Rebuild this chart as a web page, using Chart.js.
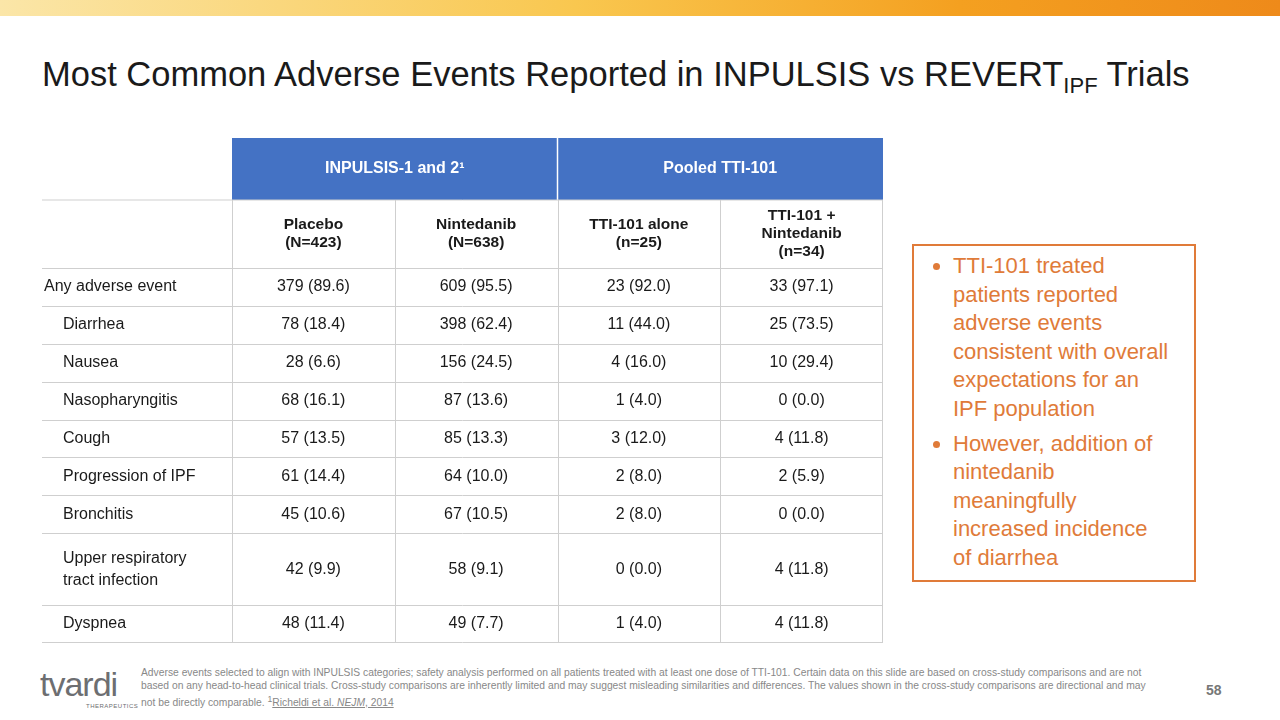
<!DOCTYPE html>
<html>
<head>
<meta charset="utf-8">
<script src="https://cdn.jsdelivr.net/npm/chart.js@4.4.1/dist/chart.umd.min.js"></script>
<style>
  body { margin:0; width:1280px; height:720px; position:relative; overflow:hidden; background:#fff; font-family:"Liberation Sans", Arial, sans-serif; }
  #banner { position:absolute; left:0; top:0; width:1280px; height:16px; background:linear-gradient(90deg,#fbe6a8 0%,#f9c74f 45%,#f4a020 75%,#ee8a1a 100%); }
  h1 { position:absolute; left:42px; top:55px; margin:0; font-weight:normal; font-size:34.5px; color:#1a1a1a; }
  h1 sub { font-size:22px; vertical-align:-7px; }
  #wrap { position:absolute; left:42px; top:138px; width:841px; height:505px; }
  #box { position:absolute; left:912px; top:244px; width:284px; height:338px; border:2px solid #E07B39; box-sizing:border-box; color:#E07B39; font-size:22px; line-height:28.6px; }
  #box ul { margin:6px 24px 0 0; padding-left:39px; }
  #box li { margin-bottom:6px; }
  #foot { position:absolute; left:141px; top:667px; width:1018px; font-size:10.3px; line-height:12.8px; color:#888; }
  #foot u { color:#888; }
  #page { position:absolute; left:1206px; top:682px; font-size:14px; font-weight:bold; color:#777; }
  #logo { position:absolute; left:40px; top:666px; font-size:34px; color:#6d6e71; letter-spacing:-1px; line-height:36px; }
  #logo small { display:block; font-size:6px; letter-spacing:0.5px; line-height:8px; margin:0 0 0 46px; }
</style>
</head>
<body>
<div id="banner"></div>
<h1>Most Common Adverse Events Reported in INPULSIS vs REVERT<sub>IPF</sub> Trials</h1>
<div id="wrap"><canvas id="tbl"></canvas></div>
<div id="box"><ul>
<li>TTI-101 treated patients reported adverse events consistent with overall expectations for an IPF population</li>
<li>However, addition of nintedanib meaningfully increased incidence of diarrhea</li>
</ul></div>
<div id="logo">tvardi<small>THERAPEUTICS</small></div>
<div id="foot">Adverse events selected to align with INPULSIS categories; safety analysis performed on all patients treated with at least one dose of TTI-101. Certain data on this slide are based on cross-study comparisons and are not based on any head-to-head clinical trials. Cross-study comparisons are inherently limited and may suggest misleading similarities and differences. The values shown in the cross-study comparisons are directional and may not be directly comparable. <sup>1</sup><u>Richeldi et al. <i>NEJM</i>, 2014</u></div>
<div id="page">58</div>
<script>
const groups = ["INPULSIS-1 and 2\u00b9", "Pooled TTI-101"];
const columns = [["Placebo", "(N=423)"], ["Nintedanib", "(N=638)"], ["TTI-101 alone", "(n=25)"], ["TTI-101 +", "Nintedanib", "(n=34)"]];
const rows = [["Any adverse event"], ["Diarrhea"], ["Nausea"], ["Nasopharyngitis"], ["Cough"], ["Progression of IPF"], ["Bronchitis"], ["Upper respiratory", "tract infection"], ["Dyspnea"]];
const placebo = ["379 (89.6)", "78 (18.4)", "28 (6.6)", "68 (16.1)", "57 (13.5)", "61 (14.4)", "45 (10.6)", "42 (9.9)", "48 (11.4)"];
const nintedanib = ["609 (95.5)", "398 (62.4)", "156 (24.5)", "87 (13.6)", "85 (13.3)", "64 (10.0)", "67 (10.5)", "58 (9.1)", "49 (7.7)"];
const ttiAlone = ["23 (92.0)", "11 (44.0)", "4 (16.0)", "1 (4.0)", "3 (12.0)", "2 (8.0)", "2 (8.0)", "0 (0.0)", "1 (4.0)"];
const ttiNin = ["33 (97.1)", "25 (73.5)", "10 (29.4)", "0 (0.0)", "4 (11.8)", "2 (5.9)", "0 (0.0)", "4 (11.8)", "4 (11.8)"];

// row weights from label line count; cumulative boundaries on the y scale
const weights = rows.map(r => r.length === 2 ? 1.9 : 1);
const bounds = [0];
weights.forEach(w => bounds.push(bounds[bounds.length - 1] + w));
const centers = weights.map((w, i) => bounds[i] + w / 2);
const series = [placebo, nintedanib, ttiAlone, ttiNin];

const FONT = '"Liberation Sans", Arial, sans-serif';
const LABEL_W = 190, HEAD1 = 62, HEAD2 = 68;

const tablePlugin = {
  id: "table",
  afterDatasetsDraw(chart) {
    const { ctx, chartArea: a, scales: { x, y } } = chart;
    const left = a.left - LABEL_W, top = a.top - HEAD1 - HEAD2;
    const colEdge = i => x.getPixelForValue(i - 0.5);
    ctx.save();
    // group header
    ctx.fillStyle = "#4472C4";
    ctx.fillRect(a.left, top, a.right - a.left, HEAD1);
    ctx.strokeStyle = "#fff"; ctx.lineWidth = 1.5;
    ctx.beginPath(); ctx.moveTo(colEdge(2), top); ctx.lineTo(colEdge(2), top + HEAD1); ctx.stroke();
    ctx.fillStyle = "#fff"; ctx.font = "bold 16px " + FONT;
    ctx.textAlign = "center"; ctx.textBaseline = "middle";
    groups.forEach((g, i) => ctx.fillText(g, (colEdge(i * 2) + colEdge(i * 2 + 2)) / 2, top + HEAD1 / 2));
    // lines
    ctx.strokeStyle = "#cfcfcf"; ctx.lineWidth = 1;
    const hl = py => { ctx.beginPath(); ctx.moveTo(left, py); ctx.lineTo(a.right, py); ctx.stroke(); };
    hl(top + HEAD1);
    bounds.forEach(b => hl(Math.min(Math.round(y.getPixelForValue(b)) + 0.5, a.bottom - 0.5)));
    for (let i = 0; i <= columns.length; i++) {
      const px = Math.min(Math.round(colEdge(i)) + 0.5, a.right - 0.5);
      ctx.beginPath(); ctx.moveTo(px, top + HEAD1); ctx.lineTo(px, a.bottom); ctx.stroke();
    }
    // sub headers
    ctx.fillStyle = "#1a1a1a"; ctx.font = "bold 15.5px " + FONT;
    columns.forEach((c, i) => {
      const cx = x.getPixelForValue(i), cy = top + HEAD1 + HEAD2 / 2;
      c.forEach((t, k) => ctx.fillText(t, cx, cy + (k - (c.length - 1) / 2) * 18));
    });
    // row labels
    ctx.font = "16px " + FONT; ctx.textAlign = "left";
    rows.forEach((r, i) => {
      const cy = y.getPixelForValue(centers[i]);
      r.forEach((t, k) => ctx.fillText(t, left + (i === 0 ? 2 : 21), cy + (k - (r.length - 1) / 2) * 22));
    });
    // cell values at dataset points
    ctx.textAlign = "center";
    chart.data.datasets.forEach((ds, di) => {
      chart.getDatasetMeta(di).data.forEach((pt, j) => ctx.fillText(ds.data[j].label, pt.x, pt.y));
    });
    ctx.restore();
  }
};

new Chart(document.getElementById("tbl"), {
  type: "scatter",
  data: {
    datasets: series.map(s => ({
      data: s.map((v, j) => ({ x: series.indexOf(s), y: centers[j], label: v })),
      pointRadius: 0
    }))
  },
  options: {
    responsive: true, maintainAspectRatio: false, animation: false,
    layout: { padding: { left: LABEL_W, top: HEAD1 + HEAD2 } },
    plugins: { legend: { display: false }, tooltip: { enabled: false } },
    scales: {
      x: { type: "linear", min: -0.5, max: columns.length - 0.5, display: false },
      y: { type: "linear", min: 0, max: bounds[bounds.length - 1], reverse: true, display: false }
    }
  },
  plugins: [tablePlugin]
});
</script>
</body>
</html>
